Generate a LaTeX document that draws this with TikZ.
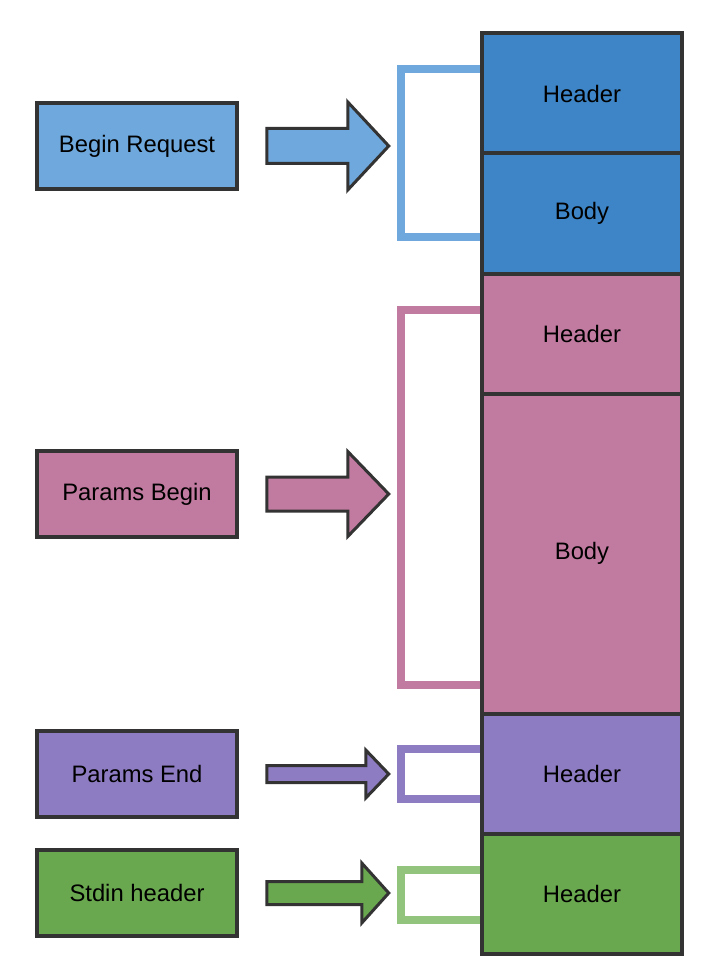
\documentclass[tikz,border=0pt]{standalone}
\usepackage{fontspec}
\setmainfont{Liberation Sans}
\usetikzlibrary{positioning}

\definecolor{reqdark}{HTML}{3D85C6}
\definecolor{reqlight}{HTML}{6FA8DC}
\definecolor{parampink}{HTML}{C27BA0}
\definecolor{endpurple}{HTML}{8E7CC3}
\definecolor{stdingreen}{HTML}{6AA84F}
\definecolor{stdinlight}{HTML}{93C47D}
\definecolor{edgegray}{HTML}{333333}

\tikzset{
    record/.style={draw=edgegray, line width=3.5pt, minimum width=200pt, minimum height=86pt,
        font=\fontsize{23.8}{28}\selectfont},
    cell/.style={draw=edgegray, line width=4pt, minimum width=200pt, outer sep=0pt,
        font=\fontsize{23.8}{28}\selectfont},
    blockarrow/.style={draw=edgegray, line width=3pt, line join=miter},
    bracket/.style={line width=8pt, line cap=butt, line join=miter}
}

\begin{document}
\begin{tikzpicture}[x=1pt, y=-1pt]
        \useasboundingbox (0,0) rectangle (718,968);

        % Create the record stack
        \node (rhead) [cell, fill=reqdark, minimum height=120pt] at (582,93.5) {Header};
        \node (rbody) [cell, fill=reqdark, minimum height=120pt, below=0pt of rhead] {Body};
        \node (phead) [cell, fill=parampink, minimum height=120pt, below=0pt of rbody] {Header};
        \node (pbody) [cell, fill=parampink, minimum height=320pt, below=0pt of phead] {Body};
        \node (ehead) [cell, fill=endpurple, minimum height=120pt, below=0pt of pbody] {Header};
        \node (shead) [cell, fill=stdingreen, minimum height=120pt, below=0pt of ehead] {Header};

        % Create the records
        \node (beginreq) [record, fill=reqlight] at (137,146) {Begin Request};
        \node (parbegin) [record, fill=parampink] at (137,494) {Params Begin};
        \node (parend) [record, fill=endpurple] at (137,774) {Params End};
        \node (stdinhdr) [record, fill=stdingreen] at (137,893) {Stdin header};

        % Draw brackets round the parts of each record
        \draw[bracket, reqlight] ([xshift=-2pt, yshift=24.5pt]rhead.west) -- ++(-79,0)
            |- ([xshift=-2pt, yshift=-23.5pt]rbody.west);
        \draw[bracket, parampink] ([xshift=-2pt, yshift=24pt]phead.west) -- ++(-79,0)
            |- ([xshift=-2pt, yshift=29pt]pbody.south west);
        \draw[bracket, endpurple] ([xshift=-2pt, yshift=25pt]ehead.west) -- ++(-79,0)
            |- ([xshift=-2pt, yshift=-25pt]ehead.west);
        \draw[bracket, stdinlight] ([xshift=-2pt, yshift=24pt]shead.west) -- ++(-79,0)
            |- ([xshift=-2pt, yshift=-26pt]shead.west);

        % Draw block arrows from the records to the brackets
        \draw[blockarrow, fill=reqlight] ([shift={(28,-17.5)}]beginreq.east) -- ++(81,0)
            -- ++(0,-26.5) -- ++(41,44) -- ++(-41,44) -- ++(0,-26.5) -- ++(-81,0) -- cycle;
        \draw[blockarrow, fill=parampink] ([shift={(28,-17)}]parbegin.east) -- ++(81,0)
            -- ++(0,-25.5) -- ++(41,42.5) -- ++(-41,42.5) -- ++(0,-25.5) -- ++(-81,0) -- cycle;
        \draw[blockarrow, fill=endpurple] ([shift={(28,-8.5)}]parend.east) -- ++(99,0)
            -- ++(0,-15.5) -- ++(23,24) -- ++(-23,24) -- ++(0,-15.5) -- ++(-99,0) -- cycle;
        \draw[blockarrow, fill=stdingreen] ([shift={(28,-11.5)}]stdinhdr.east) -- ++(95,0)
            -- ++(0,-18.5) -- ++(27,30) -- ++(-27,30) -- ++(0,-18.5) -- ++(-95,0) -- cycle;
    \end{tikzpicture}
\end{document}
